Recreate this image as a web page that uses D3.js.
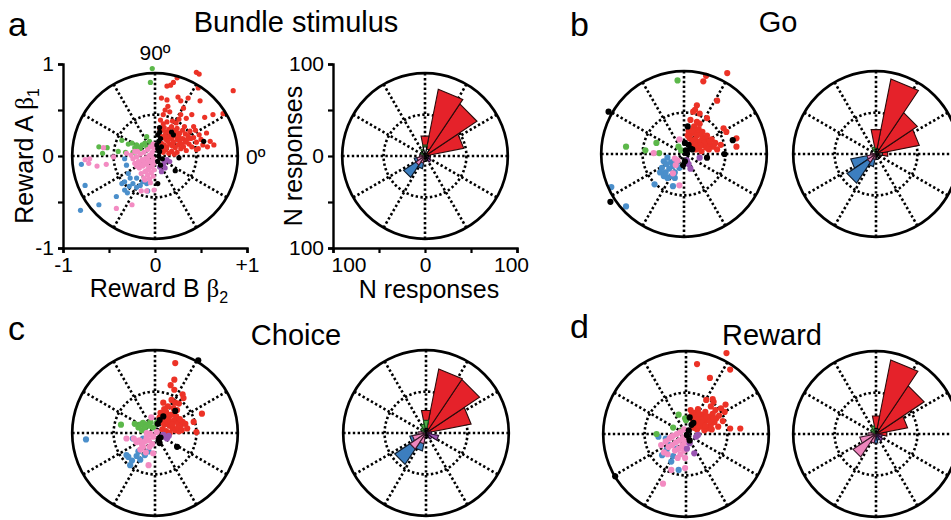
<!DOCTYPE html>
<html>
<head>
<meta charset="utf-8">
<script src="https://cdn.jsdelivr.net/npm/d3@7"></script>
<style>
  body { margin: 0; background: #fff; }
  svg { display: block; font-family: "Liberation Sans", Arial, Helvetica, sans-serif; }
</style>
</head>
<body>
<svg id="fig" width="951" height="520"></svg>
<script>
// ---------- Regression coefficients (beta2 = Reward B, beta1 = Reward A) ----------
// Panel a: Bundle stimulus
const aRed = [[0.45,0.91],[0.48,0.89],[0.24,0.85],[0.20,0.80],[0.17,0.77],[0.13,0.76],[0.47,0.74],[0.85,0.71],[0.07,0.63],[0.13,0.61],[0.25,0.64],[0.28,0.60],[0.36,0.63],[0.49,0.60],[0.14,0.54],[0.11,0.50],[0.16,0.48],[0.09,0.45],[0.31,0.52],[0.28,0.45],[0.34,0.41],[0.40,0.45],[0.54,0.42],[0.63,0.45],[0.74,0.46],[0.06,0.39],[0.13,0.37],[0.23,0.36],[0.42,0.32],[0.44,0.28],[0.56,0.25],[0.48,0.23],[0.60,0.16],[0.64,0.12],[0.57,0.10],[0.47,0.08],[0.45,0.07],
  [0.05,0.30],[0.08,0.28],[0.10,0.31],[0.12,0.26],[0.15,0.29],[0.18,0.32],[0.21,0.28],[0.24,0.30],[0.27,0.25],[0.30,0.28],[0.33,0.24],[0.36,0.22],[0.39,0.19],[0.06,0.22],[0.09,0.20],[0.12,0.18],[0.15,0.21],[0.18,0.19],[0.21,0.22],[0.24,0.18],[0.27,0.16],[0.30,0.19],[0.33,0.15],[0.37,0.13],[0.40,0.10],[0.07,0.14],[0.10,0.12],[0.13,0.10],[0.16,0.13],[0.19,0.11],[0.22,0.09],[0.25,0.12],[0.28,0.08],[0.31,0.10],[0.34,0.06],[0.06,0.06],[0.09,0.04],[0.12,0.07],[0.15,0.03],[0.18,0.05],[0.21,0.02],[0.24,0.04],[0.08,0.09],[0.17,0.25],[0.26,0.21],[0.35,0.18],[0.20,0.15],[0.11,0.23],[0.29,0.13],[0.14,0.16],[0.23,0.25],[0.32,0.32],[0.38,0.27],[0.42,0.20],[0.45,0.15],[0.50,0.18],[0.52,0.12],[0.19,0.38],[0.26,0.40],[0.09,0.35]];
const aBlue = [[-0.80,-0.09],[-0.76,-0.32],[-0.81,-0.59],[-0.61,-0.53],[-0.33,-0.03],[-0.31,-0.10],[-0.29,-0.19],[-0.33,-0.28],[-0.27,-0.24],[-0.33,-0.37],[-0.24,-0.30],[-0.16,-0.32],[-0.09,-0.30],[-0.20,-0.24],[-0.42,-0.44],[-0.08,-0.38],[-0.28,-0.33],[-0.20,-0.34],[-0.13,-0.28],[-0.36,-0.30],[-0.30,-0.40]];
const aGreen = [[-0.03,0.95],[-0.05,0.80],[-0.36,0.17],[-0.29,0.13],[-0.25,0.14],[-0.20,0.12],[-0.14,0.12],[-0.09,0.10],[-0.16,0.08],[-0.04,0.11],[-0.61,0.10],[-0.57,0.03],[-0.52,0.09],[-0.40,0.05],[-0.32,0.04],[-0.24,0.04],[-0.09,0.21],[-0.18,0.10],[-0.11,0.14],[-0.22,0.09],[-0.06,0.16]];
const aPink = [[-0.71,-0.03],[-0.76,-0.04],[-0.72,-0.08],[-0.63,-0.11],[-0.53,-0.09],[-0.56,0.09],[-0.45,-0.01],[-0.31,0.03],[-0.22,0.05],[-0.42,-0.57],[-0.25,-0.53],[-0.15,-0.38],[-0.09,-0.38],[-0.01,-0.37],[-0.05,-0.29],[-0.11,-0.26],
  [-0.02,0.13],[-0.05,0.10],[-0.08,0.07],[-0.12,0.04],[-0.16,0.02],[-0.20,-0.01],[-0.03,0.04],[-0.06,0.01],[-0.10,-0.02],[-0.14,-0.04],[-0.18,-0.06],[-0.22,-0.08],[-0.02,-0.03],[-0.05,-0.06],[-0.09,-0.09],[-0.13,-0.11],[-0.17,-0.13],[-0.03,-0.11],[-0.07,-0.14],[-0.11,-0.17],[-0.15,-0.19],[-0.04,-0.18],[-0.08,-0.21],[-0.12,-0.24],[-0.02,-0.22],[-0.06,-0.25],[-0.01,0.08],[-0.04,0.00],[-0.08,-0.04],[-0.12,-0.07],[-0.16,-0.09],[-0.20,-0.11],[-0.01,-0.08],[-0.05,-0.12],[-0.09,-0.16],[-0.24,-0.03],[-0.26,0.01],[-0.19,0.05],[-0.01,-0.15]];
const aPurple = [[0.13,-0.04],[0.09,-0.10],[0.07,-0.17],[0.11,-0.13],[0.16,-0.06],[0.05,-0.12],[0.10,-0.07]];
const aBlack = [[0.05,0.31],[0.03,0.23],[0.04,0.16],[0.07,0.10],[0.05,0.05],[0.04,0.00],[0.03,-0.06],[0.06,-0.10],[0.02,0.12],[0.03,0.08],[0.06,0.19],[0.18,0.26],[0.20,0.23],[0.53,0.16],[0.26,-0.02],[0.22,-0.16],[0.03,-0.30],[0.05,0.26],[0.08,-0.03]];

// Panel b: Go
const bRed = [[0.47,0.88],[0.24,0.85],[0.21,0.79],[0.36,0.58],[0.25,0.39],[0.14,0.53],[0.12,0.48],[0.17,0.44],[0.10,0.46],[0.07,0.37],[0.17,0.33],[0.43,0.28],[0.46,0.24],[0.57,0.17],[0.57,0.08],
  [0.05,0.25],[0.08,0.22],[0.11,0.24],[0.14,0.20],[0.17,0.22],[0.20,0.18],[0.23,0.16],[0.26,0.13],[0.29,0.10],[0.32,0.08],[0.06,0.17],[0.09,0.14],[0.12,0.16],[0.15,0.12],[0.18,0.14],[0.21,0.10],[0.24,0.07],[0.27,0.05],[0.10,0.08],[0.13,0.05],[0.16,0.06],[0.19,0.03],[0.07,0.10],[0.22,0.12],[0.30,0.16],[0.11,0.30],[0.16,0.27],
  [0.04,0.20],[0.13,0.09],[0.18,0.09],[0.25,0.20],[0.28,0.14],[0.34,0.12],[0.09,0.26],[0.20,0.24],[0.14,0.35],[0.36,0.05],[0.40,0.10]];
const bBlue = [[-0.79,-0.36],[-0.63,-0.57],[-0.32,-0.33],[-0.12,-0.35],[-0.22,-0.08],[-0.18,-0.04],[-0.14,-0.09],[-0.24,-0.15],[-0.20,-0.20],[-0.16,-0.16],[-0.12,-0.13],[-0.08,-0.10],[-0.10,-0.20],[-0.05,-0.15],[-0.18,-0.26],[-0.22,-0.24],[-0.14,-0.24],[-0.26,-0.20],[-0.10,-0.26],[-0.19,-0.11]];
const bGreen = [[-0.07,0.80],[-0.63,0.08],[-0.42,0.04],[-0.27,0.01],[-0.30,0.12],[-0.06,0.08],[-0.03,0.04]];
const bPink = [[-0.05,0.16],[-0.33,0.01],[-0.10,-0.05],[-0.07,-0.07],[-0.12,-0.21],[-0.05,-0.34],[-0.09,-0.12]];
const bPurple = [[0.17,-0.04],[0.07,-0.16],[0.03,-0.07],[0.05,-0.11]];
const bBlack = [[0.04,0.30],[0.01,0.12],[0.07,0.06],[0.09,0.05],[0.03,0.01],[0.01,-0.08],[-0.01,-0.12],[0.53,0.15],[0.25,-0.04],[-0.80,-0.52],[-0.82,0.46],[0.44,0.00],[0.02,0.04],[0.05,0.10]];

// Panel c: Choice
const cRed = [[0.22,0.76],[0.21,0.58],[0.17,0.52],[0.21,0.47],[0.30,0.42],[0.31,0.38],[0.09,0.33],[0.14,0.29],[0.22,0.33],[0.24,0.25],[0.51,0.21],[0.42,0.12],[0.45,0.01],
  [0.06,0.22],[0.09,0.19],[0.12,0.23],[0.15,0.17],[0.18,0.20],[0.21,0.14],[0.25,0.11],[0.28,0.08],[0.07,0.12],[0.10,0.09],[0.13,0.13],[0.16,0.08],[0.19,0.05],[0.22,0.03],[0.26,0.02],[0.08,0.04],[0.12,0.02],[0.16,0.00],[0.30,0.12],[0.33,0.10],[0.20,0.27],
  [0.05,0.17],[0.10,0.26],[0.14,0.20],[0.17,0.12],[0.23,0.18],[0.27,0.15],[0.11,0.15],[0.19,0.09],[0.25,0.06],[0.29,0.03],[0.35,0.05],[0.18,0.36],[0.26,0.32]];
const cBlue = [[-0.75,-0.07],[-0.29,-0.26],[-0.27,-0.35],[-0.16,-0.29],[-0.11,-0.24],[-0.24,-0.06],[-0.13,-0.06],[-0.31,-0.24],[-0.20,-0.25],[-0.07,-0.20],[-0.25,-0.30],[-0.18,-0.20]];
const cGreen = [[-0.37,0.09],[-0.18,0.06],[-0.13,0.11],[-0.05,0.12],[0.02,0.11],[-0.02,0.06],[-0.14,0.03],[-0.09,0.09],[-0.22,0.10],[-0.06,0.08],[-0.11,0.06],[-0.16,0.09]];
const cPink = [[-0.04,0.17],[-0.31,-0.06],[-0.23,-0.06],[-0.07,-0.08],[-0.16,-0.18],[-0.13,-0.15],[-0.02,-0.22],[-0.07,-0.35],[0.02,0.01],[-0.02,-0.04],[-0.09,0.00],[-0.11,-0.09],[-0.14,-0.13],[-0.05,-0.01],[-0.09,-0.05],[-0.17,-0.08],[-0.20,-0.10],[-0.06,-0.15],[-0.10,-0.21],[-0.03,-0.12]];
const cPurple = [[0.11,-0.04],[0.13,-0.06],[0.09,-0.02],[0.15,-0.03]];
const cBlack = [[0.47,0.79],[0.22,0.24],[0.09,0.18],[0.05,0.14],[0.05,-0.11],[0.04,-0.08],[0.24,-0.15],[0.03,0.10],[0.06,-0.05]];

// Panel d: Reward
const dRed = [[0.44,0.88],[0.48,0.70],[0.12,0.76],[0.26,0.61],[0.22,0.37],[0.29,0.38],[0.43,0.32],[0.42,0.24],[0.48,0.06],[0.59,0.06],
  [0.05,0.26],[0.09,0.23],[0.13,0.27],[0.17,0.21],[0.21,0.24],[0.25,0.19],[0.29,0.22],[0.33,0.17],[0.07,0.16],[0.11,0.13],[0.15,0.17],[0.19,0.12],[0.23,0.15],[0.27,0.10],[0.31,0.13],[0.35,0.08],[0.08,0.07],[0.12,0.05],[0.16,0.08],[0.20,0.04],[0.24,0.06],[0.36,0.20],[0.38,0.28],
  [0.06,0.20],[0.10,0.18],[0.14,0.22],[0.18,0.16],[0.22,0.19],[0.26,0.14],[0.30,0.17],[0.13,0.09],[0.17,0.12],[0.21,0.09],[0.28,0.05],[0.32,0.26],[0.27,0.30],[0.40,0.14],[0.30,0.35]];
const dBlue = [[-0.30,-0.03],[-0.26,-0.23],[-0.16,-0.30],[-0.08,-0.39],[-0.21,-0.17],[-0.10,-0.16],[-0.22,-0.05],[-0.14,-0.24],[-0.18,-0.12]];
const dGreen = [[-0.08,0.21],[0.00,0.15],[-0.05,0.04],[-0.14,0.07],[-0.32,0.00],[-0.01,0.17]];
const dPink = [[-0.25,-0.54],[-0.16,-0.39],[-0.01,-0.37],[-0.01,-0.26],
  [-0.02,0.05],[-0.06,0.02],[-0.10,0.00],[-0.14,-0.02],[-0.18,-0.05],[-0.22,-0.08],[-0.03,-0.04],[-0.07,-0.07],[-0.11,-0.09],[-0.15,-0.12],[-0.19,-0.14],[-0.04,-0.13],[-0.08,-0.16],[-0.12,-0.18],[-0.06,-0.22],[-0.01,-0.09],[-0.24,-0.20],[-0.20,-0.22],[-0.27,-0.12],[-0.09,-0.26],[-0.16,-0.03],[-0.02,-0.18]];
const dPurple = [[0.11,-0.03],[0.04,-0.10],[0.09,-0.21],[0.01,-0.16],[0.13,-0.01]];
const dBlack = [[0.04,0.18],[0.08,0.12],[0.03,0.04],[0.01,-0.01],[0.04,-0.07],[-0.77,-0.46],[0.06,0.10]];

// ---------- Angular histograms: neuron counts per 22.5 deg bin (bin k centred on k*22.5 deg) ----------
//                 0  22  45  67  90 112 135 157 180 202 225 247 270 292 315 337
const aRoseRed    = [5, 43, 68, 74, 22,  0,  0,  0,  0,  0,  0,  0,  0,  0,  0,  3];
const aRoseBlue   = [0,  0,  0,  0,  0,  0,  0,  0,  0, 12, 28, 14,  0,  0,  0,  0];
const aRosePink   = [0,  0,  0,  0,  0,  0,  0,  0,  6,  9, 12,  8,  0,  0,  0,  0];
const aRoseGreen  = [0,  0,  0,  0, 12,  8,  5,  0,  0,  0,  0,  0,  0,  0,  0,  0];
const aRosePurple = [0,  0,  0,  0,  0,  0,  0,  0,  0,  0,  0,  0,  0,  0,  8,  6];
const aRoseBlack  = [4,  0,  0,  8, 10,  6,  0,  0,  0,  0,  0,  0,  6,  5,  4,  0];

const bRoseRed    = [13, 48, 54, 83, 27,  0,  0,  0,  0,  0,  0,  0,  0,  0,  0,  6];
const bRoseBlue   = [0,  0,  0,  0,  0,  0,  0,  0,  0, 28, 38, 14,  6,  0,  0,  0];
const bRosePink   = [0,  0,  0,  0,  0,  0,  0,  0,  6, 10, 11,  6,  0,  0,  0,  0];
const bRoseGreen  = [0,  0,  0,  0,  6,  8,  0,  0,  0,  0,  0,  0,  0,  0,  0,  0];
const bRosePurple = [0,  0,  0,  0,  0,  0,  0,  0,  0,  0,  0,  0,  0,  0,  5,  0];
const bRoseBlack  = [7,  0,  0,  6,  5,  0,  0,  0,  0,  0,  0,  0,  0,  6,  5,  0];

const cRoseRed    = [5, 50, 70, 71, 25,  0,  0,  0,  0,  0,  0,  0,  0,  0,  0,  0];
const cRoseBlue   = [0,  0,  0,  0,  0,  0,  0,  0,  0, 18, 41, 20,  0,  0,  0,  0];
const cRosePink   = [0,  0,  0,  0,  0,  0,  0,  0,  8, 15, 21, 12,  0,  0,  0,  0];
const cRoseGreen  = [0,  0,  0,  0, 14, 10,  7,  0,  0,  0,  0,  0,  0,  0,  0,  0];
const cRosePurple = [6,  0,  0,  0,  0,  0,  0,  0,  0,  0,  0,  0,  0,  0,  8, 14];
const cRoseBlack  = [0,  0,  0,  5,  5,  4,  0,  0,  0,  0,  0,  0,  5,  4,  0,  0];

const dRoseRed    = [12, 35, 63, 82, 20,  0,  0,  0,  0,  0,  0,  0,  0,  0,  0,  0];
const dRoseBlue   = [0,  0,  0,  0,  0,  0,  0,  0,  0,  0,  0,  0, 10,  7,  0,  0];
const dRosePink   = [0,  0,  0,  0,  0,  0,  0,  0,  8, 18, 30, 10,  0,  0,  0,  0];
const dRoseGreen  = [0,  0,  0,  0,  6,  9,  7,  0,  0,  0,  0,  0,  0,  0,  0,  0];
const dRosePurple = [0,  0,  0,  0,  0,  0,  0,  0,  0,  0,  0,  0,  0,  0,  9,  7];
const dRoseBlack  = [0,  0,  0,  6,  6,  0,  0,  0,  0,  0,  0,  0,  0,  0,  0,  0];

// Axis tick labels
const betaTicks = [-1, -0.5, 0, 0.5, 1];
const betaTickLabels = {"-1": "-1", "0": "0", "1": "+1"};
const countTicks = [-100, -50, 0, 50, 100];

// ---------- Styling ----------
const dotColor = { red: "#ec3226", blue: "#4b8fcb", green: "#5cb84a", pink: "#f38bc2", purple: "#9a55b2", black: "#000000" };
const roseFill = { red: "#e5222a", blue: "#3c7ebf", green: "#4caf48", pink: "#ee86bd", purple: "#9a55b2", black: "#ffffff" };
const roseStroke = { red: "#2a0a0a", blue: "#0d1a2a", green: "#1d4a1d", pink: "#3a1a2a", purple: "#2a1030", black: "#000000" };
const PX_PER_BETA = 92;        // 1 regression unit in pixels
const PX_PER_COUNT = 0.92;     // 1 response in pixels

const svg = d3.select("#fig");
svg.append("rect").attr("width", 951).attr("height", 520).attr("fill", "#fff");

function polarGrid(g, x, y) {
  const dotted = { stroke: "#000", "stroke-width": 2.6, "stroke-dasharray": "2.4,2.4", fill: "none" };
  const R = 0.9;
  for (let a = 0; a < 180; a += 30) {
    const t = a * Math.PI / 180;
    const l = g.append("line")
      .attr("x1", x(-R * Math.cos(t))).attr("y1", y(-R * Math.sin(t)))
      .attr("x2", x(R * Math.cos(t))).attr("y2", y(R * Math.sin(t)));
    Object.entries(dotted).forEach(([k, v]) => l.attr(k, v));
  }
  const inner = g.append("circle").attr("cx", x(0)).attr("cy", y(0)).attr("r", x(R / 2) - x(0));
  Object.entries(dotted).forEach(([k, v]) => inner.attr(k, v));
  return () => g.append("circle").attr("cx", x(0)).attr("cy", y(0)).attr("r", x(R) - x(0))
    .attr("fill", "none").attr("stroke", "#000").attr("stroke-width", 2.7);
}

function betaScales(cx, cy) {
  return {
    x: d3.scaleLinear().domain([-1, 1]).range([cx - PX_PER_BETA, cx + PX_PER_BETA]),
    y: d3.scaleLinear().domain([-1, 1]).range([cy + PX_PER_BETA, cy - PX_PER_BETA])
  };
}

function scatterPanel(cx, cy, groups, rDot) {
  const { x, y } = betaScales(cx, cy);
  const g = svg.append("g");
  const outer = polarGrid(g, x, y);
  groups.forEach(([pts, col]) => {
    g.append("g").selectAll("circle").data(pts).join("circle")
      .attr("cx", d => x(d[0])).attr("cy", d => y(d[1]))
      .attr("r", rDot).attr("fill", dotColor[col]);
  });
  outer();
  return { x, y, g };
}

function rosePanel(cx, cy, groups) {
  const x = d3.scaleLinear().domain([-100, 100]).range([cx - 100 * PX_PER_COUNT, cx + 100 * PX_PER_COUNT]);
  const y = d3.scaleLinear().domain([-100, 100]).range([cy + 100 * PX_PER_COUNT, cy - 100 * PX_PER_COUNT]);
  const bx = d3.scaleLinear().domain([-1, 1]).range([cx - PX_PER_BETA, cx + PX_PER_BETA]);
  const by = d3.scaleLinear().domain([-1, 1]).range([cy + PX_PER_BETA, cy - PX_PER_BETA]);
  const g = svg.append("g");
  const outer = polarGrid(g, bx, by);
  const line = d3.line();
  const half = 11.25 * Math.PI / 180;
  groups.forEach(([vals, col]) => {
    const wedges = vals.map((v, k) => ({ v, a: k * 22.5 * Math.PI / 180 })).filter(d => d.v > 0);
    g.append("g").selectAll("path").data(wedges).join("path")
      .attr("d", d => line([
        [x(0), y(0)],
        [x(d.v * Math.cos(d.a - half)), y(d.v * Math.sin(d.a - half))],
        [x(d.v * Math.cos(d.a + half)), y(d.v * Math.sin(d.a + half))]
      ]) + "Z")
      .attr("fill", roseFill[col]).attr("stroke", roseStroke[col])
      .attr("stroke-width", 1.1).attr("stroke-linejoin", "miter");
  });
  outer();
  return { x, y, g };
}

function text(x, y, str, size, anchor = "start") {
  return svg.append("text").attr("x", x).attr("y", y).attr("font-size", size)
    .attr("text-anchor", anchor).attr("fill", "#000").text(str);
}

function styleAxis(sel) {
  sel.select(".domain").attr("stroke", "#000").attr("stroke-width", 2.4);
  sel.selectAll(".tick line").attr("stroke", "#000").attr("stroke-width", 2.2);
  sel.selectAll(".tick text").attr("font-size", 21).attr("fill", "#000")
    .attr("font-family", "\"Liberation Sans\", Arial, sans-serif");
}

// ---------- Panel a ----------
const colorOrder = (r, bl, gr, pk, pu, bk) => [[r, "red"], [bl, "blue"], [gr, "green"], [pk, "pink"], [pu, "purple"], [bk, "black"]];
const roseOrder = (r, bl, pk, gr, pu, bk) => [[r, "red"], [bl, "blue"], [pk, "pink"], [gr, "green"], [pu, "purple"], [bk, "black"]];

const pa = scatterPanel(155, 156, colorOrder(aRed, aBlue, aGreen, aPink, aPurple, aBlack), 2.6);
const axY = svg.append("g").attr("transform", `translate(${pa.x(-1)},0)`)
  .call(d3.axisLeft(pa.y).tickValues(betaTicks).tickSize(5).tickPadding(4)
    .tickFormat(d => betaTickLabels[String(d)] === undefined ? "" : (d === 1 ? "1" : betaTickLabels[String(d)])));
styleAxis(axY);
const axX = svg.append("g").attr("transform", `translate(0,${pa.y(-1)})`)
  .call(d3.axisBottom(pa.x).tickValues(betaTicks).tickSize(5).tickPadding(4)
    .tickFormat(d => betaTickLabels[String(d)] || ""));
styleAxis(axX);

text(pa.x(0), 60, "90º", 21, "middle");
text(pa.x(0.99), pa.y(0) + 8, "0º", 21, "start");

const ylab = svg.append("text").attr("transform", `translate(33,${pa.y(0)}) rotate(-90)`)
  .attr("text-anchor", "middle").attr("font-size", 25);
ylab.append("tspan").text("Reward A ");
ylab.append("tspan").attr("font-family", "\"Liberation Serif\", serif").text("β");
ylab.append("tspan").attr("font-size", 16).attr("dy", 6).text("1");

const xlab = svg.append("text").attr("x", pa.x(0) + 4).attr("y", 297)
  .attr("text-anchor", "middle").attr("font-size", 25);
xlab.append("tspan").text("Reward B ");
xlab.append("tspan").attr("font-family", "\"Liberation Serif\", serif").text("β");
xlab.append("tspan").attr("font-size", 16).attr("dy", 6).text("2");

const ra = rosePanel(425, 156, roseOrder(aRoseRed, aRoseBlue, aRosePink, aRoseGreen, aRosePurple, aRoseBlack));
const rY = svg.append("g").attr("transform", `translate(${ra.x(-100)},0)`)
  .call(d3.axisLeft(ra.y).tickValues(countTicks).tickSize(5).tickPadding(4)
    .tickFormat(d => d % 100 === 0 ? String(Math.abs(d)) : ""));
styleAxis(rY);
const rX = svg.append("g").attr("transform", `translate(0,${ra.y(-100)})`)
  .call(d3.axisBottom(ra.x).tickValues(countTicks).tickSize(5).tickPadding(4)
    .tickFormat(d => d % 100 === 0 ? String(Math.abs(d)) : ""));
styleAxis(rX);
rX.selectAll(".tick text").filter(d => d === -100).attr("text-anchor", "start").attr("dx", -2);
rX.selectAll(".tick text").filter(d => d === 100).attr("dx", -6);

svg.append("text").attr("transform", `translate(302,${ra.y(0)}) rotate(-90)`)
  .attr("text-anchor", "middle").attr("font-size", 25).text("N responses");
text(ra.x(0) + 4, 298, "N responses", 25, "middle");

// ---------- Panel b ----------
scatterPanel(684, 154, colorOrder(bRed, bBlue, bGreen, bPink, bPurple, bBlack), 3.1);
rosePanel(876, 154, roseOrder(bRoseRed, bRoseBlue, bRosePink, bRoseGreen, bRosePurple, bRoseBlack));

// ---------- Panel c ----------
scatterPanel(155, 433, colorOrder(cRed, cBlue, cGreen, cPink, cPurple, cBlack), 3.1);
rosePanel(426, 433, roseOrder(cRoseRed, cRoseBlue, cRosePink, cRoseGreen, cRosePurple, cRoseBlack));

// ---------- Panel d ----------
scatterPanel(686, 434, colorOrder(dRed, dBlue, dGreen, dPink, dPurple, dBlack), 3.1);
rosePanel(876, 434, roseOrder(dRoseRed, dRoseBlue, dRosePink, dRoseGreen, dRosePurple, dRoseBlack));

// ---------- Panel letters and titles ----------
text(8, 36, "a", 34);
text(296, 32, "Bundle stimulus", 29, "middle");
text(570, 36, "b", 34);
text(778, 32, "Go", 29, "middle");
text(8, 340, "c", 34);
text(296, 345, "Choice", 29, "middle");
text(570, 338, "d", 34);
text(772, 345, "Reward", 29, "middle");
</script>
</body>
</html>
